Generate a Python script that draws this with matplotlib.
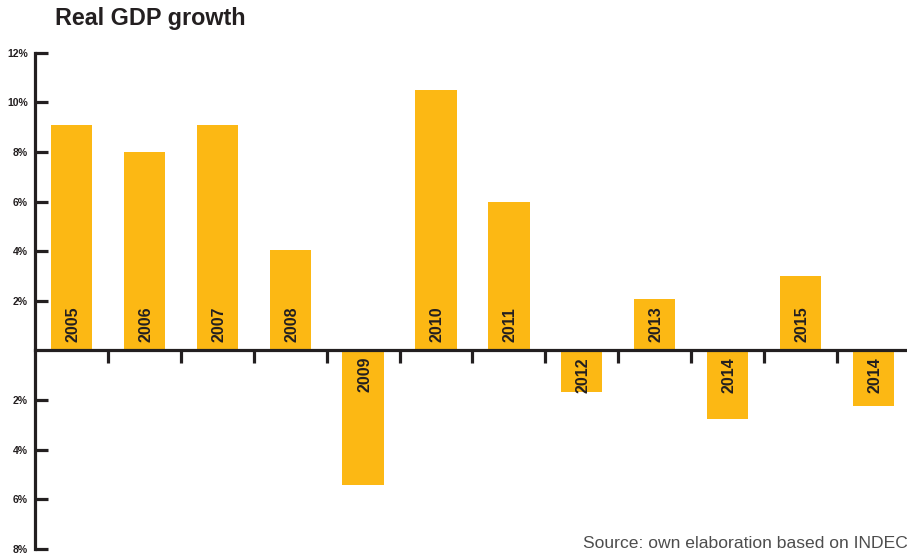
import matplotlib.pyplot as plt
import numpy as np

# ==========================================
# DATA
# ==========================================

years = ["2005", "2006", "2007", "2008", "2009", "2010",
         "2011", "2012", "2013", "2014", "2015", "2014"]
growth = [9.1, 8.0, 9.1, 4.05, -5.45, 10.5, 6.0, -1.7, 2.05, -2.75, 3.0, -2.25]
ytick_vals = [12, 10, 8, 6, 4, 2, -2, -4, -6, -8]
ytick_labels = ["12%", "10%", "8%", "6%", "4%", "2%", "2%", "4%", "6%", "8%"]

bar_color = "#FCB814"
ink = "#231F20"

plt.rcParams["font.family"] = ["Liberation Sans", "DejaVu Sans"]

# ==========================================
# FIGURE
# ==========================================

fig = plt.figure(figsize=(9.07, 5.53), dpi=100)
ax = fig.add_axes([35 / 907, 1 - 548.7 / 553, 1 - 35 / 907, (548.7 - 52.7) / 553])

x = np.arange(len(years)) + 0.5
ax.bar(x, growth, width=0.565, color=bar_color, zorder=1)

for xi, val, yr in zip(x, growth, years):
    if val >= 0:
        ax.text(xi + 0.02, 0.32, yr, rotation=90, ha="center", va="bottom",
                fontsize=11.5, fontweight="bold", color=ink)
    else:
        ax.text(xi + 0.02, -0.27, yr, rotation=90, ha="center", va="top",
                fontsize=11.5, fontweight="bold", color=ink)

ax.set_xlim(0, 11.96)
ax.set_ylim(-8, 12)

# axes styling
for side in ["top", "right"]:
    ax.spines[side].set_visible(False)
ax.spines["left"].set_linewidth(2.3)
ax.spines["left"].set_color(ink)
ax.spines["bottom"].set_position(("data", 0))
ax.spines["bottom"].set_linewidth(2.3)
ax.spines["bottom"].set_color(ink)

ax.set_yticks(ytick_vals)
ax.set_yticklabels(ytick_labels, fontsize=7.5, fontweight="bold", color=ink)
ax.tick_params(axis="y", direction="in", length=9, width=2.3, color=ink, pad=5)

ax.set_xticks(np.arange(1, 12))
ax.set_xticklabels([])
ax.tick_params(axis="x", direction="out", length=9.5, width=2.3, color=ink)

# ==========================================
# TEXTS
# ==========================================

fig.text(55 / 907, 1 - 19 / 553, "Real GDP growth", fontsize=16.8,
         fontweight="bold", color=ink, va="center", ha="left")
fig.text(583 / 907, 1 - 543 / 553, "Source: own elaboration based on INDEC",
         fontsize=12.6, color="#4D4D4D", va="center", ha="left")

fig.savefig("out.png", dpi=100)
